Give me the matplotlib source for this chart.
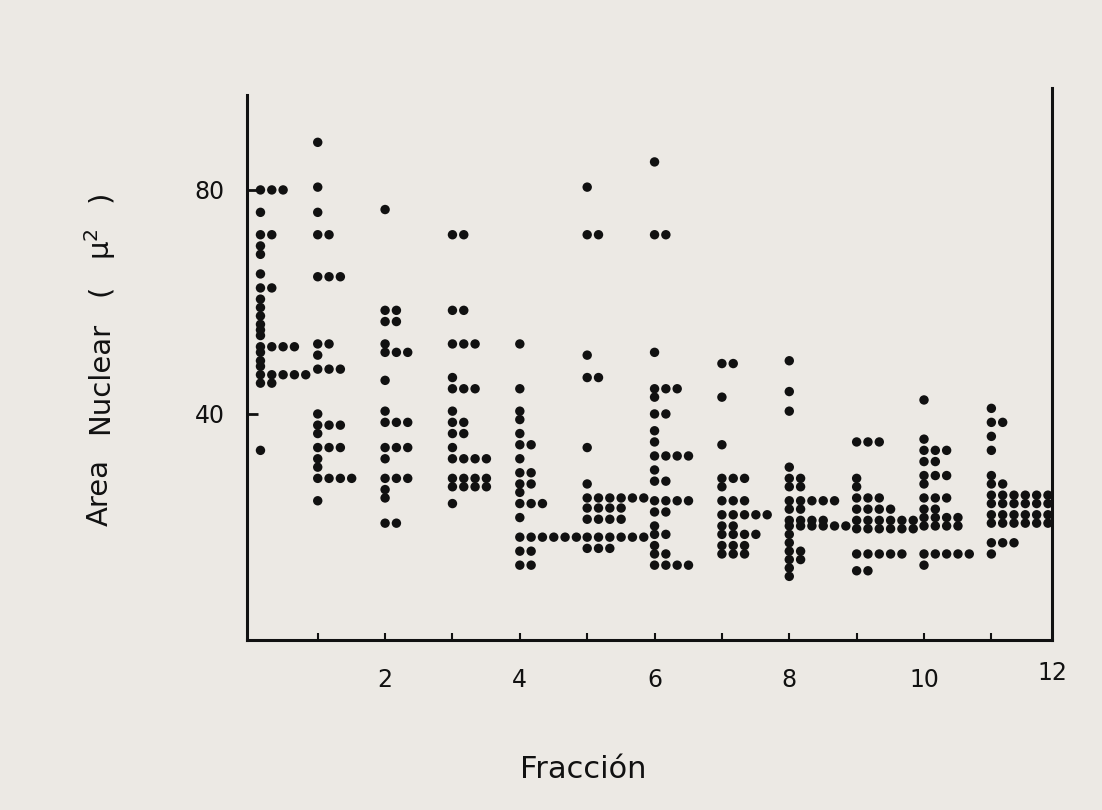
import matplotlib
matplotlib.use("Agg")
import matplotlib.pyplot as plt
from collections import Counter

# Nuclear area (square microns) measured in each fraction; repeated values
# are stacked side by side to the right of the fraction's column.
fractions = [0, 1, 2, 3, 4, 5, 6, 7, 8, 9, 10, 11]

area_f0 = [80, 80, 80, 76, 72, 72, 70, 68.5, 65, 62.5, 62.5, 60.5, 59, 57.5,
           56, 55, 54, 52, 52, 52, 52, 51, 49.5, 48.5, 47, 47, 47, 47, 47,
           45.5, 45.5, 33.5]
area_f1 = [88.5, 80.5, 76, 72, 72, 64.5, 64.5, 64.5, 52.5, 52.5, 50.5, 48, 48,
           48, 40, 38, 38, 38, 36.5, 34, 34, 34, 32, 30.5, 28.5, 28.5, 28.5,
           28.5, 24.5]
area_f2 = [76.5, 58.5, 58.5, 56.5, 56.5, 52.5, 51, 51, 51, 46, 40.5, 38.5,
           38.5, 38.5, 34, 34, 34, 32, 28.5, 28.5, 28.5, 26.5, 25, 20.5, 20.5]
area_f3 = [72, 72, 58.5, 58.5, 52.5, 52.5, 52.5, 46.5, 44.5, 44.5, 44.5, 40.5,
           38.5, 38.5, 36.5, 36.5, 34, 32, 32, 32, 32, 28.5, 28.5, 28.5, 28.5,
           27, 27, 27, 27, 24]
area_f4 = [52.5, 44.5, 40.5, 39, 36.5, 34.5, 34.5, 32, 29.5, 29.5, 27.5, 27.5,
           26, 24, 24, 24, 21.5, 18, 18, 18, 18, 18, 18, 15.5, 15.5, 13, 13]
area_f5 = [80.5, 72, 72, 50.5, 46.5, 46.5, 34, 27.5, 25, 25, 25, 25, 25, 25,
           23.2, 23.2, 23.2, 23.2, 21.2, 21.2, 21.2, 21.2, 18, 18, 18, 18, 18,
           18, 16, 16, 16]
area_f6 = [85, 72, 72, 51, 44.5, 44.5, 44.5, 43, 40, 40, 37, 35, 32.5, 32.5,
           32.5, 32.5, 30, 28, 28, 24.5, 24.5, 24.5, 24.5, 22.5, 22.5, 20,
           18.5, 18.5, 16.5, 15, 15, 13, 13, 13, 13]
area_f7 = [49, 49, 43, 34.5, 28.5, 28.5, 28.5, 27, 24.5, 24.5, 24.5, 22, 22,
           22, 22, 22, 20, 20, 18.5, 18.5, 18.5, 18.5, 16.5, 16.5, 16.5, 15,
           15, 15]
area_f8 = [49.5, 44, 40.5, 30.5, 28.5, 28.5, 27, 27, 24.5, 24.5, 24.5, 24.5,
           24.5, 23, 23, 21, 21, 21, 21, 20, 20, 20, 20, 20, 20, 18.5, 17,
           15.5, 15.5, 14, 14, 12.5, 11]
area_f9 = [35, 35, 35, 28.5, 27, 25, 25, 25, 23, 23, 23, 23, 21, 21, 21, 21,
           21, 21, 19.5, 19.5, 19.5, 19.5, 19.5, 19.5, 15, 15, 15, 15, 15, 12,
           12]
area_f10 = [42.5, 35.5, 33.5, 33.5, 33.5, 31.5, 31.5, 29, 29, 29, 27.5, 25,
            25, 25, 23, 23, 21.5, 21.5, 21.5, 21.5, 20, 20, 20, 20, 15, 15, 15,
            15, 15, 13]
area_f11 = [41, 38.5, 38.5, 36, 33.5, 29, 27.5, 27.5, 25.5, 25.5, 25.5, 25.5,
            25.5, 25.5, 24, 24, 24, 24, 24, 24, 22, 22, 22, 22, 22, 22, 20.5,
            20.5, 20.5, 20.5, 20.5, 20.5, 17, 17, 17, 15]

areas = [area_f0, area_f1, area_f2, area_f3, area_f4, area_f5,
         area_f6, area_f7, area_f8, area_f9, area_f10, area_f11]

x_tick_labels = ["", "2", "", "4", "", "6", "", "8", "", "10", ""]
y_ticks = [40, 80]

paper = "#ece9e4"
ink = "#111111"

W, H = 1102, 810
fig = plt.figure(figsize=(W / 100, H / 100), dpi=100, facecolor=paper)
ax = fig.add_axes([247 / W, 1 - 640 / H, (1052 - 247) / W, (640 - 88) / H])
ax.set_facecolor("none")
ax.set_xlim(-0.05, 11.9)
ax.set_ylim(-0.36, 98.2)

step = 0.168          # horizontal gap between stacked equal values
first_column = {0: 0.15}

for f, vals in zip(fractions, areas):
    base = first_column.get(f, f)
    xs, ys = [], []
    for v, n in Counter(vals).items():
        for k in range(n):
            xs.append(base + k * step)
            ys.append(v)
    ax.scatter(xs, ys, s=46, c=ink, edgecolors="none", zorder=3, clip_on=False)

for side in ("left", "bottom", "right"):
    ax.spines[side].set_linewidth(2.2)
    ax.spines[side].set_color(ink)
ax.spines["top"].set_visible(False)
ax.spines["left"].set_bounds(-0.36, 97)

ax.set_yticks(y_ticks)
ax.set_yticklabels([str(t) for t in y_ticks])
ax.tick_params(axis="y", direction="in", length=8, width=2, pad=16,
               labelsize=17, colors=ink)
ax.set_xticks(range(1, 12))
ax.set_xticklabels(x_tick_labels)
ax.tick_params(axis="x", direction="in", length=5, width=1.5, pad=20,
               labelsize=17, colors=ink)
ax.text(11.9, -6.3, "12", ha="center", va="center", fontsize=17, color=ink)

fig.text(583 / W, 1 - 770 / H, "Fracción", ha="center", va="center",
         fontsize=22, color=ink)

# vertical axis title, laid out word by word with generous spacing
y_title = [("Area", 492), ("Nuclear", 378), ("(", 290),
           (r"$\mathregular{\mu^2}$", 244), (")", 196)]
for piece, py in y_title:
    fig.text(100 / W, 1 - py / H, piece, rotation=90, ha="center",
             va="center", fontsize=21, color=ink)

fig.savefig("out.png", dpi=100, facecolor=paper)
